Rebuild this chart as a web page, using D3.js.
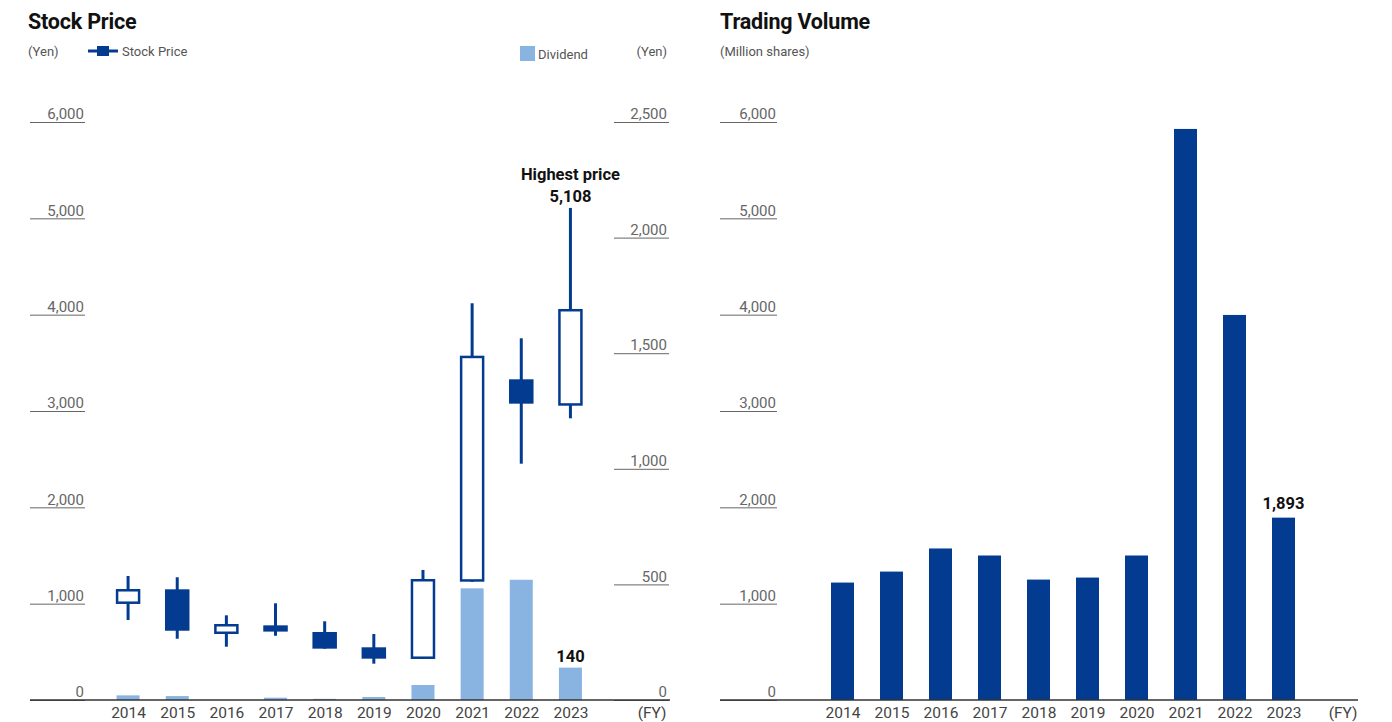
<!DOCTYPE html>
<html>
<head>
<meta charset="utf-8">
<script src="https://cdn.jsdelivr.net/npm/d3@7"></script>
<style>
  html, body { margin: 0; padding: 0; background: #fff; }
  svg { display: block; font-family: Roboto, "Noto Sans", sans-serif; }
</style>
</head>
<body>
<svg id="chart" width="1392" height="722"></svg>
<script>
// ---------- data ----------
const years = ["2014","2015","2016","2017","2018","2019","2020","2021","2022","2023"];
const priceOpen  = [997, 1149, 685, 775, 706, 547, 426, 1228, 3329, 3055];
const priceClose = [1152, 719, 789, 710, 533, 429, 1256, 3574, 3076, 4059];
const priceHigh  = [1287, 1274, 879, 1004, 817, 685, 1350, 4118, 3755, 5108];
const priceLow   = [830, 636, 553, 667, 533, 377, 426, 1228, 2453, 2924];
const dividends  = [20, 17, 0, 10, 5, 13, 65, 483, 520, 140];
const volume     = [1219, 1333, 1573, 1500, 1250, 1271, 1500, 5928, 3997, 1893];
const priceTicks = [0, 1000, 2000, 3000, 4000, 5000, 6000];
const dividendTicks = [0, 500, 1000, 1500, 2000, 2500];
const volumeTicks = [0, 1000, 2000, 3000, 4000, 5000, 6000];

// ---------- styles ----------
const DARK = "#023b8f";
const LIGHT = "#89b3e0";
const fmt = d3.format(",");

const svg = d3.select("#chart");

// ---------- LEFT: Stock price ----------
const xL = d3.scalePoint().domain(years).range([103.5, 595]).padding(0.5);
const yP = d3.scaleLinear().domain([0, 6000]).range([700, 122]);
const yD = d3.scaleLinear().domain([0, 2500]).range([700, 122]);

svg.append("text").attr("x", 28).attr("y", 29)
  .attr("font-size", 21.5).attr("font-weight", 700).attr("fill", "#111")
  .attr("letter-spacing", -0.2).text("Stock Price");
svg.append("text").attr("x", 28).attr("y", 56).attr("font-size", 13).attr("fill", "#555").text("(Yen)");
svg.append("text").attr("x", 667).attr("y", 56).attr("font-size", 13).attr("fill", "#555")
  .attr("text-anchor", "end").text("(Yen)");

// legend stock price
const lg = svg.append("g");
lg.append("line").attr("x1", 88).attr("x2", 118).attr("y1", 51).attr("y2", 51)
  .attr("stroke", DARK).attr("stroke-width", 3);
lg.append("rect").attr("x", 97).attr("y", 46).attr("width", 12).attr("height", 10).attr("fill", DARK);
lg.append("text").attr("x", 122).attr("y", 56).attr("font-size", 13).attr("fill", "#555").text("Stock Price");
// legend dividend
lg.append("rect").attr("x", 520).attr("y", 46).attr("width", 15).attr("height", 15).attr("fill", LIGHT);
lg.append("text").attr("x", 538).attr("y", 59).attr("font-size", 13).attr("fill", "#555").text("Dividend");

function styleAxis(g, anchorX) {
  g.select(".domain").remove();
  g.selectAll(".tick line").attr("stroke", "#666").attr("stroke-width", 1);
  g.selectAll(".tick text").attr("x", anchorX).attr("dy", "-0.22em")
    .attr("text-anchor", "end").attr("font-size", 15).attr("fill", "#666")
    .attr("font-family", "Roboto, sans-serif");
}

// left axis
svg.append("g").attr("transform", "translate(85,0)")
  .call(d3.axisLeft(yP).tickValues(priceTicks).tickSize(55).tickFormat(fmt))
  .call(g => styleAxis(g, -1));
// right axis (dividend)
svg.append("g").attr("transform", "translate(669,0)")
  .call(d3.axisLeft(yD).tickValues(dividendTicks).tickSize(55).tickFormat(fmt))
  .call(g => styleAxis(g, -2));

// dividend bars
const barW = 23;
svg.append("g").selectAll("rect").data(years).join("rect")
  .attr("x", (d) => xL(d) - barW / 2)
  .attr("width", barW)
  .attr("y", (d, i) => yD(dividends[i]))
  .attr("height", (d, i) => yD(0) - yD(dividends[i]))
  .attr("fill", LIGHT);

// candles
const candleW = 22;
const cg = svg.append("g").selectAll("g").data(years).join("g");
cg.append("line")
  .attr("x1", d => xL(d)).attr("x2", d => xL(d))
  .attr("y1", (d, i) => yP(priceHigh[i])).attr("y2", (d, i) => yP(priceLow[i]))
  .attr("stroke", DARK).attr("stroke-width", 3);
cg.append("rect")
  .attr("x", d => xL(d) - candleW / 2)
  .attr("width", candleW)
  .attr("y", (d, i) => yP(Math.max(priceOpen[i], priceClose[i])) + 1.25)
  .attr("height", (d, i) => Math.abs(yP(priceOpen[i]) - yP(priceClose[i])) - 2.5)
  .attr("fill", (d, i) => priceClose[i] >= priceOpen[i] ? "#fff" : DARK)
  .attr("stroke", DARK).attr("stroke-width", 2.5);

// baseline left
svg.append("line").attr("x1", 30).attr("x2", 670).attr("y1", 700).attr("y2", 700)
  .attr("stroke", "#333").attr("stroke-width", 1.5);

function styleX(g) {
  g.select(".domain").remove();
  g.selectAll(".tick text").attr("font-size", 15.5).attr("fill", "#444")
    .attr("font-family", "Roboto, sans-serif");
}

// x axis left
svg.append("g").attr("transform", "translate(0,700)")
  .call(d3.axisBottom(xL).tickSize(0).tickPadding(7))
  .call(styleX);
svg.append("text").attr("x", 652).attr("y", 718).attr("text-anchor", "middle")
  .attr("font-size", 15.5).attr("fill", "#444").text("(FY)");

// annotations left
const last = years.length - 1;
svg.append("text").attr("x", xL(years[last])).attr("y", 180).attr("text-anchor", "middle")
  .attr("font-size", 16.5).attr("font-weight", 700).attr("fill", "#111").text("Highest price");
svg.append("text").attr("x", xL(years[last])).attr("y", 202).attr("text-anchor", "middle")
  .attr("font-size", 16.5).attr("font-weight", 700).attr("fill", "#111").text(fmt(priceHigh[last]));
svg.append("text").attr("x", xL(years[last])).attr("y", yD(dividends[last]) - 6).attr("text-anchor", "middle")
  .attr("font-size", 16.5).attr("font-weight", 700).attr("fill", "#111").text(fmt(dividends[last]));

// ---------- RIGHT: Trading volume ----------
const xR = d3.scalePoint().domain(years).range([818, 1308]).padding(0.5);
const yV = d3.scaleLinear().domain([0, 6000]).range([700, 122]);

svg.append("text").attr("x", 720).attr("y", 29)
  .attr("font-size", 21.5).attr("font-weight", 700).attr("fill", "#111")
  .attr("letter-spacing", -0.2).text("Trading Volume");
svg.append("text").attr("x", 720).attr("y", 56).attr("font-size", 13).attr("fill", "#555").text("(Million shares)");

svg.append("g").attr("transform", "translate(777,0)")
  .call(d3.axisLeft(yV).tickValues(volumeTicks).tickSize(57).tickFormat(fmt))
  .call(g => styleAxis(g, -1));

svg.append("g").selectAll("rect").data(years).join("rect")
  .attr("x", d => xR(d) - barW / 2)
  .attr("width", barW)
  .attr("y", (d, i) => yV(volume[i]))
  .attr("height", (d, i) => yV(0) - yV(volume[i]))
  .attr("fill", DARK);

svg.append("line").attr("x1", 720).attr("x2", 1358).attr("y1", 700).attr("y2", 700)
  .attr("stroke", "#333").attr("stroke-width", 1.5);

svg.append("g").attr("transform", "translate(0,700)")
  .call(d3.axisBottom(xR).tickSize(0).tickPadding(7))
  .call(styleX);
svg.append("text").attr("x", 1343).attr("y", 718).attr("text-anchor", "middle")
  .attr("font-size", 15.5).attr("fill", "#444").text("(FY)");

svg.append("text").attr("x", xR(years[last])).attr("y", yV(volume[last]) - 9).attr("text-anchor", "middle")
  .attr("font-size", 16.5).attr("font-weight", 700).attr("fill", "#111").text(fmt(volume[last]));
</script>
</body>
</html>
